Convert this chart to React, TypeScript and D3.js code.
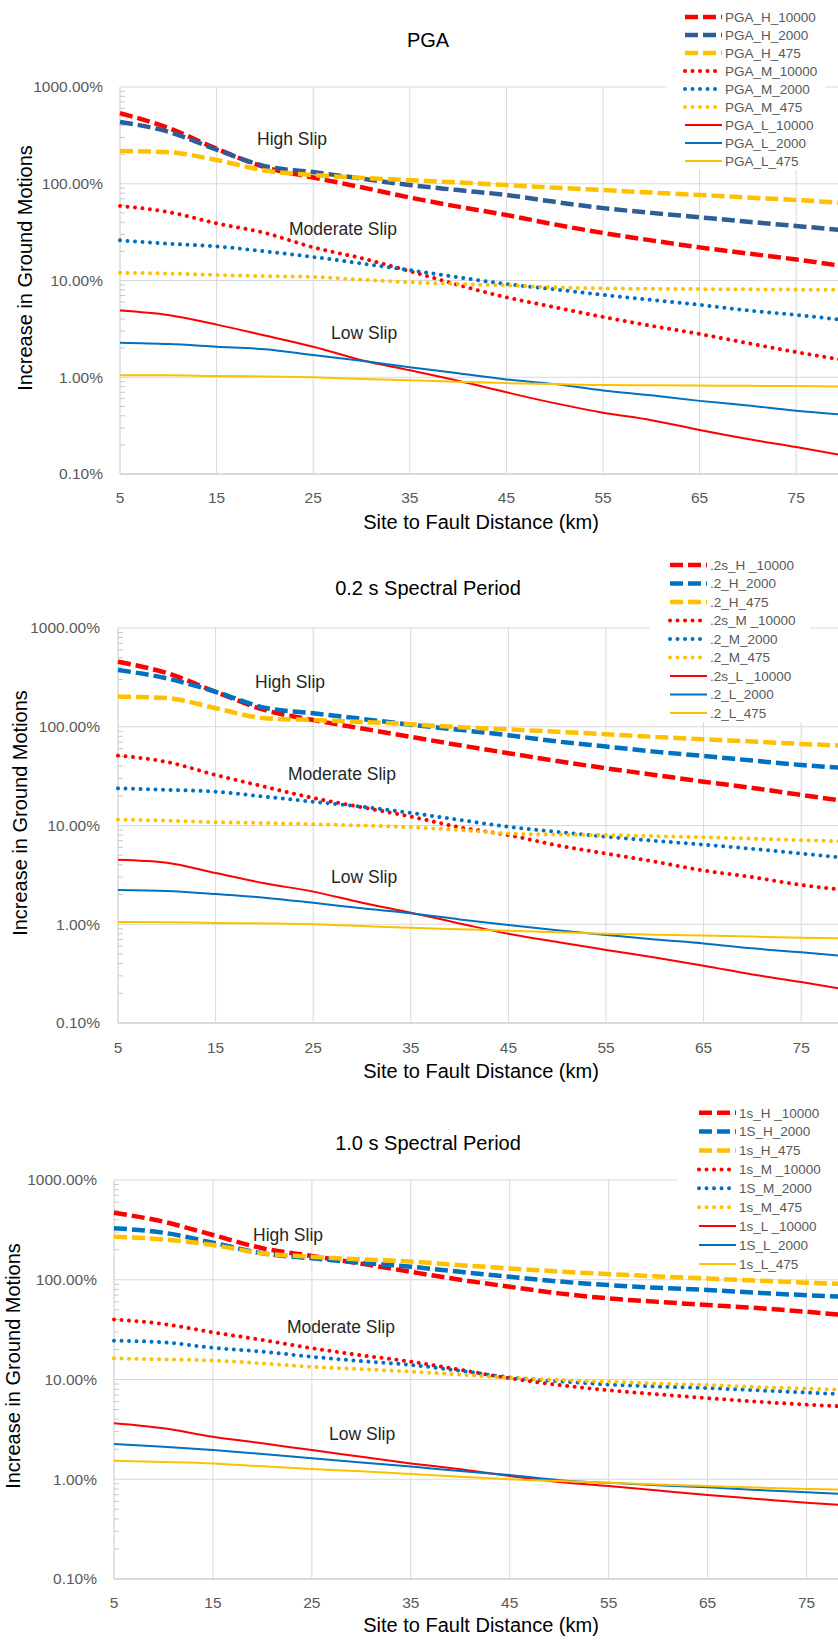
import React from "react";
import * as d3 from "d3";

const WIDTH = 838;
const HEIGHT = 1641;

// site to fault distance (km)
const DIST = [5, 10, 15, 20, 25, 30, 35, 40, 45, 50, 55, 60, 65, 70, 75, 80];
const X_TICKS = [5, 15, 25, 35, 45, 55, 65, 75];
const Y_TICKS = [0.1, 1, 10, 100, 1000];
const Y_TICK_LABELS = ["0.10%", "1.00%", "10.00%", "100.00%", "1000.00%"];

// PGA (percent)
const pgaH10000 = [538, 377, 230, 148, 116, 92, 72, 58, 47.5, 38, 31, 26, 22, 19, 16.5, 14];
const pgaH2000 = [435, 345, 225, 152, 132, 113, 97, 86, 76.5, 65, 56, 50, 45, 40.5, 36.6, 33];
const pgaH475 = [218, 212, 176, 137, 123, 115, 109, 103, 97, 91, 86, 81, 76.5, 72, 68, 63];
const pgaM10000 = [59, 51, 39, 31, 22, 17, 12.5, 9, 6.7, 5.3, 4.2, 3.4, 2.8, 2.25, 1.82, 1.5];
const pgaM2000 = [26, 24, 22.5, 20, 17.5, 15, 12.8, 10.8, 9.2, 8.1, 7.1, 6.3, 5.6, 4.9, 4.4, 3.9];
const pgaM475 = [12, 11.8, 11.4, 11.1, 10.9, 10.2, 9.6, 9.2, 8.9, 8.5, 8.3, 8.2, 8.15, 8.1, 8.05, 8.0];
const pgaL10000 = [4.9, 4.4, 3.5, 2.7, 2.07, 1.5, 1.18, 0.92, 0.7, 0.54, 0.43, 0.36, 0.285, 0.23, 0.19, 0.155];
const pgaL2000 = [2.27, 2.2, 2.07, 1.95, 1.7, 1.48, 1.27, 1.1, 0.95, 0.85, 0.73, 0.65, 0.57, 0.51, 0.45, 0.41];
const pgaL475 = [1.05, 1.05, 1.03, 1.02, 1.0, 0.96, 0.93, 0.9, 0.87, 0.85, 0.83, 0.825, 0.82, 0.815, 0.81, 0.8];

// 0.2 s spectral period
const s02H10000 = [456, 350, 226, 148, 117, 96, 79, 65, 54, 45, 38, 32.5, 27.8, 24, 20.4, 17.4];
const s02H2000 = [376, 309, 226, 156, 137, 120, 105, 93, 82, 71, 63, 56, 50.6, 45.5, 41, 38];
const s02H475 = [202, 195, 154, 122, 117, 112, 106, 99, 94, 89, 84, 79, 74.6, 71, 67, 64];
const s02M10000 = [51, 44, 32.5, 24.7, 19, 15.3, 12.3, 9.6, 8.0, 6.3, 5.2, 4.3, 3.5, 3.0, 2.5, 2.2];
const s02M2000 = [23.8, 23, 22, 19.6, 17.4, 15.5, 13.4, 11.4, 9.7, 8.6, 7.7, 7.0, 6.4, 5.8, 5.2, 4.65];
const s02M475 = [11.5, 11.2, 10.8, 10.6, 10.3, 10.0, 9.6, 9.0, 8.3, 8.1, 8.0, 7.8, 7.6, 7.35, 7.1, 6.9];
const s02L10000 = [4.5, 4.2, 3.3, 2.6, 2.14, 1.65, 1.31, 1.02, 0.8, 0.66, 0.55, 0.46, 0.38, 0.31, 0.26, 0.215];
const s02L2000 = [2.22, 2.17, 2.02, 1.86, 1.65, 1.45, 1.29, 1.12, 0.98, 0.87, 0.78, 0.7, 0.64, 0.57, 0.52, 0.47];
const s02L475 = [1.055, 1.05, 1.03, 1.02, 1.0, 0.96, 0.92, 0.89, 0.86, 0.83, 0.8, 0.785, 0.77, 0.75, 0.73, 0.72];

// 1.0 s spectral period
const s10H10000 = [470, 382, 281, 207, 173, 145, 120, 100, 85, 73, 65, 60, 55.8, 52, 47.8, 43];
const s10H2000 = [328, 296, 235, 184, 164, 148, 135, 120, 107, 96, 88.5, 83, 79, 74, 70, 66.7];
const s10H475 = [270, 254, 223, 184, 170, 160, 152, 140, 130, 121, 114, 108, 103, 98, 93.5, 90];
const s10M10000 = [40, 36, 29.7, 24.9, 20.6, 17.5, 15.1, 12.5, 10.3, 8.8, 7.8, 7.1, 6.5, 6.0, 5.6, 5.3];
const s10M2000 = [24.5, 23.6, 20.8, 19, 16.9, 15.3, 14, 12.2, 10.5, 9.6, 8.9, 8.5, 8.2, 7.8, 7.4, 7.0];
const s10M475 = [16.3, 15.9, 15.5, 14.5, 13.4, 12.7, 12, 11.2, 10.4, 9.9, 9.5, 9.1, 8.8, 8.4, 8.1, 7.8];
const s10L10000 = [3.64, 3.24, 2.67, 2.29, 1.96, 1.68, 1.44, 1.26, 1.08, 0.94, 0.855, 0.77, 0.695, 0.635, 0.58, 0.54];
const s10L2000 = [2.25, 2.12, 1.96, 1.79, 1.62, 1.47, 1.34, 1.21, 1.1, 0.98, 0.92, 0.87, 0.83, 0.78, 0.74, 0.705];
const s10L475 = [1.53, 1.49, 1.44, 1.35, 1.27, 1.2, 1.13, 1.06, 1.0, 0.96, 0.92, 0.885, 0.855, 0.825, 0.8, 0.78];

const PGA_NAMES = ["PGA_H_10000", "PGA_H_2000", "PGA_H_475", "PGA_M_10000", "PGA_M_2000", "PGA_M_475", "PGA_L_10000", "PGA_L_2000", "PGA_L_475"];
const S02_NAMES = [".2s_H _10000", ".2_H_2000", ".2_H_475", ".2s_M _10000", ".2_M_2000", ".2_M_475", ".2s_L _10000", ".2_L_2000", ".2_L_475"];
const S10_NAMES = ["1s_H _10000", "1S_H_2000", "1s_H_475", "1s_M _10000", "1S_M_2000", "1s_M_475", "1s_L _10000", "1S_L_2000", "1s_L_475"];
const SLIP_NOTES = ["High Slip", "Moderate Slip", "Low Slip"];

const RED = "#FF0000";
const BLUE = "#0070C0";
const GOLD = "#FFC000";
const KINDS = ["dash", "dash", "dash", "dot", "dot", "dot", "solid", "solid", "solid"];

const FONT = "'Liberation Sans', Arial, sans-serif";
const GRID = "#d9d9d9";
const TICK_TEXT = "#595959";

const PANELS = [
  {
    title: "PGA",
    names: PGA_NAMES,
    values: [pgaH10000, pgaH2000, pgaH475, pgaM10000, pgaM2000, pgaM475, pgaL10000, pgaL2000, pgaL475],
    colors: [RED, "#2E5E95", GOLD, RED, BLUE, GOLD, RED, BLUE, GOLD],
    left: 120, right: 844.5, top: 87, bottom: 474,
    titleY: 47, xLabelY: 503, xTitleY: 529, yTitleX: 32, yTitleY: 268, yLabelGap: 17,
    legend: { x: 667, y: 0, w: 158, h: 170, lineX: 685, textX: 723, firstY: 17, step: 18 },
    notes: [[257, 145], [289, 235], [331, 339]],
  },
  {
    title: "0.2 s Spectral Period",
    names: S02_NAMES,
    values: [s02H10000, s02H2000, s02H475, s02M10000, s02M2000, s02M475, s02L10000, s02L2000, s02L475],
    colors: [RED, BLUE, GOLD, RED, BLUE, GOLD, RED, BLUE, GOLD],
    left: 118, right: 850, top: 628, bottom: 1023,
    titleY: 595, xLabelY: 1053, xTitleY: 1078, yTitleX: 27, yTitleY: 813, yLabelGap: 18,
    legend: { x: 650, y: 548, w: 160, h: 174, lineX: 670, textX: 708, firstY: 565, step: 18.5 },
    notes: [[255, 688], [288, 780], [331, 883]],
  },
  {
    title: "1.0 s Spectral Period",
    names: S10_NAMES,
    values: [s10H10000, s10H2000, s10H475, s10M10000, s10M2000, s10M475, s10L10000, s10L2000, s10L475],
    colors: [RED, BLUE, GOLD, RED, BLUE, GOLD, RED, BLUE, GOLD],
    left: 114, right: 856, top: 1180, bottom: 1579,
    titleY: 1150, xLabelY: 1608, xTitleY: 1632, yTitleX: 20, yTitleY: 1366, yLabelGap: 17,
    legend: { x: 677, y: 1098, w: 161, h: 177, lineX: 699, textX: 737, firstY: 1112.7, step: 18.9 },
    notes: [[253, 1241], [287, 1333], [329, 1440]],
  },
];

function strokeProps(kind) {
  if (kind === "dash") return { strokeWidth: 4.5, strokeDasharray: "13 5", strokeLinecap: "butt" };
  if (kind === "dot") return { strokeWidth: 4, strokeDasharray: "0.01 7.5", strokeLinecap: "round" };
  return { strokeWidth: 2, strokeLinecap: "butt" };
}

function Panel({ p }) {
  const x = d3.scaleLinear().domain([5, 80]).range([p.left, p.right]);
  const y = d3.scaleLog().domain([0.1, 1000]).range([p.bottom, p.top]);
  const line = d3
    .line<number>()
    .x((_, i) => x(DIST[i]))
    .y((v) => y(v))
    .curve(d3.curveMonotoneX);

  const minor: number[] = [];
  [0.1, 1, 10, 100].forEach((dec) => {
    for (let k = 2; k <= 9; k++) minor.push(dec * k);
  });

  const lg = p.legend;

  return (
    <g>
      {/* gridlines */}
      {X_TICKS.slice(1).map((t) => (
        <line key={"gx" + t} x1={x(t)} x2={x(t)} y1={p.top} y2={p.bottom} stroke={GRID} strokeWidth={1} />
      ))}
      {Y_TICKS.map((t) => (
        <line key={"gy" + t} x1={p.left} x2={WIDTH} y1={y(t)} y2={y(t)} stroke={GRID} strokeWidth={1} />
      ))}
      {/* axes */}
      <line x1={p.left} x2={p.left} y1={p.top} y2={p.bottom} stroke="#c8c8c8" strokeWidth={1} />
      <line x1={p.left} x2={WIDTH} y1={p.bottom} y2={p.bottom} stroke="#c8c8c8" strokeWidth={1} />
      {minor.map((m) => (
        <line key={"mt" + m} x1={p.left} x2={p.left + 5} y1={y(m)} y2={y(m)} stroke="#c8c8c8" strokeWidth={1} />
      ))}

      {/* series */}
      {p.values.map((vals, i) => (
        <path
          key={p.names[i]}
          d={line(vals) || ""}
          fill="none"
          stroke={p.colors[i]}
          {...strokeProps(KINDS[i])}
        />
      ))}

      {/* tick labels */}
      {Y_TICKS.map((t, i) => (
        <text
          key={"yl" + t}
          x={p.left - p.yLabelGap}
          y={y(t)}
          dy="0.35em"
          textAnchor="end"
          fontSize={15.5}
          fill={TICK_TEXT}
          fontFamily={FONT}
        >
          {Y_TICK_LABELS[i]}
        </text>
      ))}
      {X_TICKS.map((t) => (
        <text key={"xl" + t} x={x(t)} y={p.xLabelY} textAnchor="middle" fontSize={15.5} fill={TICK_TEXT} fontFamily={FONT}>
          {t}
        </text>
      ))}

      {/* titles */}
      <text x={428} y={p.titleY} textAnchor="middle" fontSize={20} fill="#000" fontFamily={FONT}>
        {p.title}
      </text>
      <text x={481} y={p.xTitleY} textAnchor="middle" fontSize={20} fill="#000" fontFamily={FONT}>
        Site to Fault Distance (km)
      </text>
      <text
        transform={`translate(${p.yTitleX},${p.yTitleY}) rotate(-90)`}
        textAnchor="middle"
        fontSize={20}
        fill="#000"
        fontFamily={FONT}
      >
        Increase in Ground Motions
      </text>

      {/* slip annotations */}
      {SLIP_NOTES.map((n, i) => (
        <text key={n} x={p.notes[i][0]} y={p.notes[i][1]} fontSize={17.5} fill="#262626" fontFamily={FONT}>
          {n}
        </text>
      ))}

      {/* legend */}
      <rect x={lg.x} y={lg.y} width={lg.w} height={lg.h} fill="#fff" />
      {p.names.map((n, i) => {
        const cy = lg.firstY + i * lg.step;
        return (
          <g key={"lg" + n}>
            <line
              x1={lg.lineX}
              x2={lg.lineX + 37}
              y1={cy}
              y2={cy}
              stroke={p.colors[i]}
              {...strokeProps(KINDS[i])}
            />
            <text x={lg.textX + 2} y={cy} dy="0.36em" fontSize={13.5} fill={TICK_TEXT} fontFamily={FONT}>
              {n}
            </text>
          </g>
        );
      })}
    </g>
  );
}

export default function App() {
  return (
    <>
      <style>{"body{margin:0;background:#fff}"}</style>
      <svg width={WIDTH} height={HEIGHT} viewBox={`0 0 ${WIDTH} ${HEIGHT}`} style={{ display: "block" }}>
        <rect width={WIDTH} height={HEIGHT} fill="#fff" />
        {PANELS.map((p) => (
          <Panel key={p.title} p={p} />
        ))}
      </svg>
    </>
  );
}
